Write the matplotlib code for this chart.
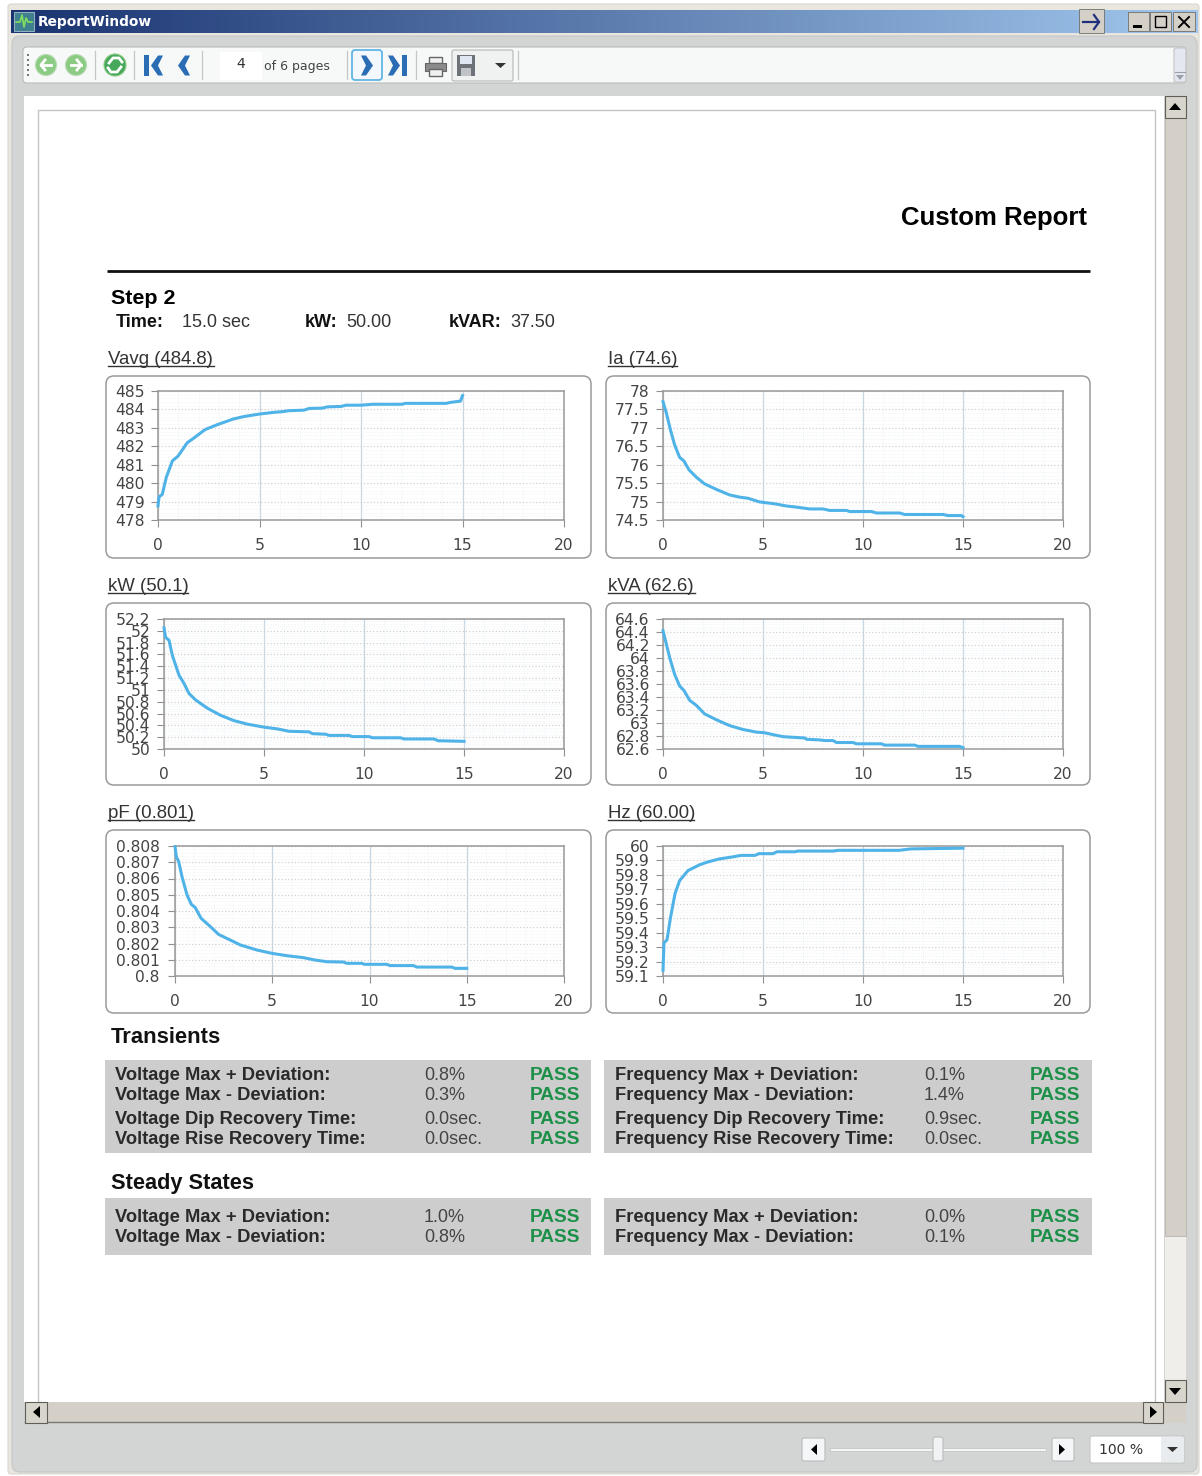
#!/usr/bin/env python3
# Report window screenshot: six step response charts plus the pass/fail tables

import numpy as np
import matplotlib
matplotlib.use('Agg')
import matplotlib.pyplot as plt
from matplotlib.patches import Rectangle, FancyBboxPatch, Circle, Polygon

W, H = 1202, 1476

# chart data, time in seconds
vavg_t = [0, 0.05, 0.21, 0.41, 0.71, 0.99, 1.44, 1.82, 2.31, 2.89, 3.71, 4.21, 5, 5.69, 6.11, 6.44, 7.19, 7.44,
          8.1, 8.35, 9.01, 9.26, 10, 10.58, 12, 12.2, 14.2, 14.4, 14.9, 15]
vavg_v = [478.77, 479.25, 479.39, 480.32, 481.21, 481.47, 482.19, 482.49, 482.9, 483.16, 483.48, 483.61, 483.75,
          483.84, 483.88, 483.93, 483.96, 484.05, 484.07, 484.14, 484.16, 484.23, 484.23, 484.28, 484.28, 484.33,
          484.33, 484.38, 484.45, 484.75]
ia_t = [0, 0.17, 0.37, 0.58, 0.83, 1.05, 1.3, 1.67, 2.08, 2.67, 3.33, 3.83, 4.25, 4.83, 5.58, 6.17, 6.67, 7.33, 8,
        8.33, 9.17, 9.33, 10.42, 10.67, 11.83, 12.08, 14, 14.25, 14.92, 15]
ia_v = [77.71, 77.4, 76.95, 76.54, 76.2, 76.1, 75.86, 75.66, 75.48, 75.33, 75.18, 75.12, 75.09, 74.99, 74.94, 74.88,
        74.85, 74.8, 74.8, 74.76, 74.76, 74.73, 74.73, 74.69, 74.69, 74.65, 74.65, 74.62, 74.62, 74.59]
kw_t = [0, 0.08, 0.25, 0.42, 0.75, 1, 1.25, 1.58, 2.17, 2.83, 3.5, 4.17, 5, 5.67, 6.25, 7.25, 7.42, 8.08, 8.25,
        9.25, 9.42, 10.25, 10.42, 11.83, 12, 13.5, 13.7, 15]
kw_v = [52.05, 51.89, 51.84, 51.58, 51.25, 51.11, 50.94, 50.83, 50.69, 50.57, 50.48, 50.42, 50.37, 50.34, 50.3,
        50.29, 50.26, 50.25, 50.23, 50.23, 50.21, 50.21, 50.19, 50.19, 50.17, 50.17, 50.14, 50.13]
kva_t = [0, 0.13, 0.33, 0.58, 0.83, 1.05, 1.33, 1.67, 2.08, 2.67, 3.33, 4, 4.67, 5.08, 5.67, 6, 6.5, 7.08, 7.17,
         7.83, 8.08, 8.5, 8.67, 9.5, 9.67, 10.92, 11.08, 12.58, 12.75, 14.83, 15]
kva_v = [64.42, 64.26, 64.01, 63.75, 63.57, 63.5, 63.35, 63.27, 63.14, 63.05, 62.96, 62.9, 62.86, 62.85, 62.81,
         62.79, 62.78, 62.77, 62.75, 62.74, 62.73, 62.73, 62.7, 62.7, 62.68, 62.68, 62.66, 62.66, 62.64, 62.64, 62.62]
pf_t = [0, 0.07, 0.19, 0.36, 0.62, 0.84, 1.04, 1.34, 1.82, 2.24, 2.76, 3.36, 4.21, 5, 5.75, 6.6, 7.21, 7.81, 8.66,
        8.83, 9.61, 9.73, 10.89, 11.06, 12.26, 12.43, 14.23, 14.4, 15]
pf_v = [0.80796, 0.80734, 0.80704, 0.80611, 0.80498, 0.80441, 0.80421, 0.80355, 0.80304, 0.80256, 0.80226, 0.80191,
        0.8016, 0.80139, 0.80125, 0.80113, 0.80098, 0.80088, 0.80086, 0.80078, 0.80078, 0.80072, 0.80072, 0.80064,
        0.80064, 0.80055, 0.80055, 0.80047, 0.80047]
hz_t = [0, 0.05, 0.2, 0.37, 0.6, 0.83, 1.25, 1.83, 2.25, 2.8, 3.5, 3.9, 4.6, 4.8, 5.5, 5.7, 6.6, 6.75, 8.5, 8.75,
        11.8, 12.4, 15]
hz_v = [59.14, 59.33, 59.35, 59.5, 59.67, 59.76, 59.83, 59.87, 59.89, 59.91, 59.925, 59.935, 59.935, 59.947,
        59.947, 59.96, 59.96, 59.965, 59.965, 59.97, 59.97, 59.98, 59.985]

vavg_ticks = [478, 479, 480, 481, 482, 483, 484, 485]
ia_ticks = [74.5, 75, 75.5, 76, 76.5, 77, 77.5, 78]
kw_ticks = [50, 50.2, 50.4, 50.6, 50.8, 51, 51.2, 51.4, 51.6, 51.8, 52, 52.2]
kva_ticks = [62.6, 62.8, 63, 63.2, 63.4, 63.6, 63.8, 64, 64.2, 64.4, 64.6]
pf_ticks = [0.8, 0.801, 0.802, 0.803, 0.804, 0.805, 0.806, 0.807, 0.808]
hz_ticks = [59.1, 59.2, 59.3, 59.4, 59.5, 59.6, 59.7, 59.8, 59.9, 60]
time_ticks = [0, 5, 10, 15, 20]

# table text
transient_left = ['Voltage Max + Deviation:', 'Voltage Max - Deviation:', 'Voltage Dip Recovery Time:', 'Voltage Rise Recovery Time:']
transient_left_vals = ['0.8%', '0.3%', '0.0sec.', '0.0sec.']
transient_right = ['Frequency Max + Deviation:', 'Frequency Max - Deviation:', 'Frequency Dip Recovery Time:', 'Frequency Rise Recovery Time:']
transient_right_vals = ['0.1%', '1.4%', '0.9sec.', '0.0sec.']
steady_left = ['Voltage Max + Deviation:', 'Voltage Max - Deviation:']
steady_left_vals = ['1.0%', '0.8%']
steady_right = ['Frequency Max + Deviation:', 'Frequency Max - Deviation:']
steady_right_vals = ['0.0%', '0.1%']

fig = plt.figure(figsize=(W / 100, H / 100), dpi=100, facecolor='white')

# full figure axes in pixel coordinates for the window around the charts
bg = fig.add_axes([0, 0, 1, 1])
bg.set_xlim(0, W)
bg.set_ylim(H, 0)
bg.axis('off')

SANS = 'Liberation Sans'


def rect(x0, y0, x1, y1, fc, ec='none', lw=0, z=1):
    bg.add_patch(Rectangle((x0, y0), x1 - x0, y1 - y0, facecolor=fc, edgecolor=ec, linewidth=lw, zorder=z))


def rbox(x0, y0, x1, y1, fc, ec='none', lw=0.8, r=4, z=1):
    bg.add_patch(FancyBboxPatch((x0 + r, y0 + r), x1 - x0 - 2 * r, y1 - y0 - 2 * r,
                                boxstyle='round,pad=%g,rounding_size=%g' % (r, r),
                                facecolor=fc, edgecolor=ec, linewidth=lw, zorder=z))


def label(x, y, s, px=16, weight='normal', color='#222222', ha='left', family=SANS, z=5):
    return bg.text(x, y + 1.5, s, fontsize=px * 0.72, fontweight=weight, color=color, ha=ha, va='center',
                   family=family, zorder=z)


def poly(points, fc, z=6):
    bg.add_patch(Polygon(points, closed=True, facecolor=fc, edgecolor='none', zorder=z))


def chevron(cx, cy, d, color='#2a6db5', h=10, w=6, t=5):
    # d = 1 points right, d = -1 points left
    poly([(cx - d * w, cy - h), (cx - d * (w - t), cy - h), (cx + d * w, cy), (cx - d * (w - t), cy + h),
          (cx - d * w, cy + h), (cx + d * (w - t) - d * 2, cy)], color)


# window frame
rect(0, 0, W, H, 'white', z=0)
rbox(8, 4, 1199, 1474, '#e8e6df', ec='#d8d6ce', r=3)
rbox(12, 36, 1197, 1472, '#d2d5d4', ec='#c4c7c6', r=8, z=2)

# title bar gradient
grad = np.linspace(0, 1, 256)[None, :, None]
c0 = np.array([0.10, 0.20, 0.44])[None, None, :]
c1 = np.array([0.63, 0.78, 0.93])[None, None, :]
bg.imshow(c0 + (c1 - c0) * grad, extent=(11, 1198, 33, 10), aspect='auto', zorder=3)
bg.set_xlim(0, W)
bg.set_ylim(H, 0)
rect(14, 12, 34, 31, '#3f7f8f', ec='#8fb0c0', lw=0.8, z=4)
bg.plot([16, 20, 22, 24, 26, 28, 32], [22, 22, 15, 27, 18, 22, 22], color='#7fe060', lw=1.2, zorder=5)
label(38, 20.5, 'ReportWindow', px=13.8, weight='bold', color='white', family='DejaVu Sans')

# title bar buttons
for x0, x1, y0, y1 in [(1079, 1104, 9, 33), (1128, 1149, 12, 31), (1150, 1171, 12, 31), (1173, 1195, 12, 31)]:
    rect(x0, y0, x1, y1, '#d4d0c8', ec='#6f6f6a', lw=0.6, z=4)
bg.plot([1083, 1099], [22, 22], color='#20307f', lw=1.6, zorder=5)
bg.plot([1094, 1099, 1094], [15, 22, 29], color='#20307f', lw=1.6, zorder=5)
rect(1133, 25, 1142, 27.5, 'black', z=5)
rect(1155, 16, 1166, 27, 'none', ec='black', lw=1.0, z=5)
bg.plot([1179, 1189], [17, 27], color='black', lw=1.4, zorder=5)
bg.plot([1179, 1189], [27, 17], color='black', lw=1.4, zorder=5)

# toolbar
rbox(23, 47, 1186, 83, '#f7f8f8', ec='#b9bcbb', r=4, z=3)
rbox(1174, 48, 1186, 82, '#e4e8ee', ec='#c2c6cc', r=2, z=4)
bg.plot([1175, 1185], [72, 72], color='#9aa0a8', lw=0.8, zorder=5)
poly([(1176, 75), (1184, 75), (1180, 80)], '#9aa0a8')
for x in [95, 134, 202, 347, 416, 518]:
    bg.plot([x, x], [51, 79], color='#c4c6c6', lw=0.9, zorder=5)
for y in [55, 60, 65, 70, 75]:
    bg.add_patch(Circle((28, y), 1, facecolor='#555555', zorder=5))

for cx, d in [(46, -1), (76, 1)]:
    bg.add_patch(Circle((cx, 65), 10.5, facecolor='#8ccb84', edgecolor='#b7dcb2', lw=0.8, zorder=5))
    bg.plot([cx - 5, cx + 5], [65, 65], color='white', lw=2, zorder=6)
    bg.plot([cx + d, cx + d * 5, cx + d], [60, 65, 70], color='white', lw=2, zorder=6)
bg.add_patch(Circle((115, 65), 11, facecolor='#45a85a', edgecolor='#8ccb84', lw=0.8, zorder=5))
bg.plot([109, 113, 119, 122], [63, 58, 58, 62], color='white', lw=2, zorder=6)
bg.plot([121, 117, 111, 108], [67, 72, 72, 68], color='white', lw=2, zorder=6)

rect(144, 55, 149, 76, '#2a6db5', z=6)
chevron(157, 65.5, -1)
chevron(184, 65.5, -1)
rect(220, 52, 262, 80, '#ffffff', z=4)
label(241, 62, '4', px=14, ha='center', family='DejaVu Sans', color='#333333')
label(264, 65, 'of 6 pages', px=12.5, family='DejaVu Sans', color='#444444')
rbox(352, 50, 382, 80, '#f2f8fd', ec='#62b5e5', lw=1.3, r=3, z=4)
chevron(367, 65.5, 1)
chevron(394, 65.5, 1)
rect(402, 55, 407, 76, '#2a6db5', z=6)

# printer and save icons
rect(429, 57, 442, 63, '#f0f0f0', ec='#666666', lw=1, z=5)
rect(425, 63, 446, 71, '#8a8a8a', ec='#666666', lw=0.8, z=5)
rect(429, 69, 442, 76, '#f0f0f0', ec='#666666', lw=1, z=6)
rbox(452, 50, 513, 81, '#f0f1f1', ec='#b5b8b8', r=2, z=4)
rect(457, 55, 475, 76, '#6d7378', z=5)
rect(460, 56, 472, 64, '#dfe8f2', z=6)
rect(461, 68, 471, 76, '#c0c4c8', z=6)
poly([(495, 63), (506, 63), (500.5, 68)], '#333333')

# report page
rect(24, 96, 1164, 1402, 'white', z=3)
rect(38, 110, 1155, 1403, 'white', ec='#c4c4c4', lw=1, z=3)

# scrollbars
rect(1165, 96, 1186, 1402, '#f0eeea', z=4)
rect(1165, 118, 1186, 1236, '#d4d0c8', ec='#b8b5ad', lw=0.6, z=4)
rect(25, 1402, 1186, 1423, '#d4d0c8', z=4)
bg.plot([25, 1142], [1422, 1422], color='#77776f', lw=1, zorder=5)
for x0, x1, y0, y1 in [(1165, 1186, 96, 118), (1165, 1186, 1380, 1402), (25, 47, 1402, 1423), (1143, 1163, 1402, 1423)]:
    rect(x0, y0, x1, y1, '#d8d5cd', ec='#5f5f58', lw=0.8, z=5)
poly([(1169, 110), (1181, 110), (1175, 103)], 'black')
poly([(1169, 1388), (1181, 1388), (1175, 1395)], 'black')
poly([(40, 1406), (40, 1418), (33, 1412)], 'black')
poly([(1150, 1406), (1150, 1418), (1157, 1412)], 'black')

# zoom slider
rbox(802, 1438, 825, 1461, '#f4f6f7', ec='#b8bcbc', r=2, z=4)
rbox(1052, 1438, 1074, 1461, '#f4f6f7', ec='#b8bcbc', r=2, z=4)
poly([(817, 1444), (817, 1455), (811, 1449.5)], 'black')
poly([(1059, 1444), (1059, 1455), (1065, 1449.5)], 'black')
rect(830, 1447.5, 1046, 1451, '#f4f5f5', ec='#c4c6c6', lw=0.6, z=4)
rbox(933, 1437, 943, 1461, '#f0f2f4', ec='#b8bcbc', r=2, z=5)
rbox(1090, 1436, 1184, 1463, '#ffffff', ec='#c2c5c5', r=2, z=4)
rect(1161, 1437, 1184, 1462, '#e8ecee', z=5)
label(1099, 1449, '100 %', px=14, color='#333333', family='DejaVu Sans')
poly([(1167, 1447), (1178, 1447), (1172.5, 1452)], '#333333')

# report header
label(1087, 217, 'Custom Report', px=25.7, weight='bold', color='black', ha='right')
bg.plot([107, 1090], [271, 271], color='#111111', lw=2, zorder=5, solid_capstyle='butt')
label(111, 296.5, 'Step 2', px=21.5, weight='bold', color='black')
label(116, 321, 'Time:', px=18, weight='bold', color='#111111')
label(182, 321, '15.0 sec', px=18, color='#333333')
label(305, 321, 'kW:', px=18, weight='bold', color='#111111')
label(346, 321, '50.00', px=18, color='#333333')
label(449, 321, 'kVAR:', px=18, weight='bold', color='#111111')
label(510, 321, '37.50', px=18, color='#333333')


def chart(name, box, x_px, y_px, t, v, yticks, under, pad=4.5):
    # box = left, top, right, bottom of the rounded frame, x_px/y_px = plot area
    x0, y0, x1, y1 = box
    rbox(x0, y0, x1, y1, 'white', ec='#9a9a9a', lw=1.1, r=8, z=3)
    label(x0 + 2, y0 - 18, name, px=18.6, color='#333333')
    bg.plot([x0 + 2, under], [y0 - 10, y0 - 10], color='#333333', lw=1.0, zorder=5)

    left, right = x_px
    top, bottom = y_px
    ax = fig.add_axes([left / W, 1 - bottom / H, (right - left) / W, (bottom - top) / H], zorder=6)
    ax.set_xlim(0, 20)
    ax.set_ylim(min(yticks), max(yticks))
    ax.patch.set_alpha(0)
    ax.set_xticks(time_ticks)
    ax.set_xticklabels(['%g' % i for i in time_ticks])
    ax.set_yticks(yticks)
    ax.set_yticklabels(['%g' % i for i in yticks])

    # dotted minor grid plus the light blue verticals
    step = yticks[1] - yticks[0]
    ax.set_yticks(np.arange(yticks[0], yticks[-1], step / 5), minor=True)
    ax.set_xticks(np.arange(0, 20, 1), minor=True)
    ax.tick_params(which='minor', length=0)
    ax.grid(which='minor', color='#e6eef2', linewidth=0.5, linestyle=':')
    ax.grid(which='major', axis='y', color='#d0d0d0', linewidth=0.9, linestyle=':')
    ax.grid(which='major', axis='x', color='#c5d6e2', linewidth=0.9, linestyle='-')
    ax.set_axisbelow(True)

    for s in ax.spines.values():
        s.set_color('#999999')
        s.set_linewidth(1.1)
    ax.tick_params(axis='y', which='major', length=5, width=0.8, color='#909090', pad=pad,
                   labelsize=11.2, labelcolor='#444444')
    ax.tick_params(axis='x', which='major', length=5, width=0.8, color='#909090', pad=8,
                   labelsize=11.2, labelcolor='#444444')
    ax.plot(t, v, color='#4fb3e8', linewidth=2.2, solid_joinstyle='round', clip_on=False, zorder=4)
    return ax


chart('Vavg (484.8)', (106, 376, 591, 558), (158, 564), (391, 520), vavg_t, vavg_v, vavg_ticks, 214)
chart('Ia (74.6)', (606, 376, 1090, 558), (663, 1063), (391, 520), ia_t, ia_v, ia_ticks, 677)
chart('kW (50.1)', (106, 603, 591, 785), (164, 564), (619, 749), kw_t, kw_v, kw_ticks, 188, pad=4.8)
chart('kVA (62.6)', (606, 603, 1090, 785), (663, 1063), (619, 749), kva_t, kva_v, kva_ticks, 695)
chart('pF (0.801)', (106, 830, 591, 1013), (175, 564), (846, 976), pf_t, pf_v, pf_ticks, 194, pad=6)
chart('Hz (60.00)', (606, 830, 1090, 1013), (663, 1063), (846, 976), hz_t, hz_v, hz_ticks, 694)


def table(x0, x1, y0, y1, rows, names, vals, xl, xv, xp):
    rect(x0, y0, x1, y1, '#cdcdcd', z=3)
    for y, n, v in zip(rows, names, vals):
        label(xl, y, n, px=18.4, weight='bold', color='#2a2a2a')
        label(xv, y, v, px=18, color='#444444')
        label(xp, y, 'PASS', px=19, weight='bold', color='#1c9048')


label(111, 1036, 'Transients', px=22, weight='bold', color='#111111')
label(111, 1182, 'Steady States', px=21.8, weight='bold', color='#111111')

table_rows = [1074.5, 1094.5, 1117.5, 1137.5]
steady_rows = [1215.5, 1236.5]
table(105, 591, 1060, 1153, table_rows, transient_left, transient_left_vals, 115, 424, 530)
table(604, 1092, 1060, 1153, table_rows, transient_right, transient_right_vals, 615, 924, 1030)
table(105, 591, 1198, 1255, steady_rows, steady_left, steady_left_vals, 115, 424, 530)
table(604, 1092, 1198, 1255, steady_rows, steady_right, steady_right_vals, 615, 924, 1030)

fig.savefig('out.png', dpi=100, facecolor='white')
